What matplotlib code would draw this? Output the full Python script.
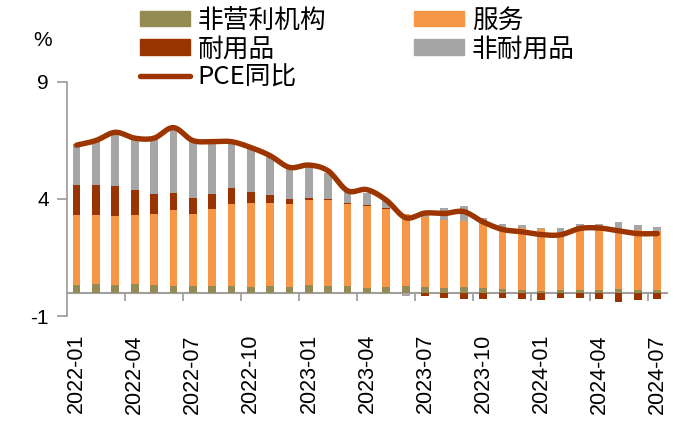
import numpy as np
import matplotlib
matplotlib.use("Agg")
import matplotlib.pyplot as plt
from matplotlib.patches import Patch
from matplotlib.lines import Line2D

months = ["2022-01","2022-02","2022-03","2022-04","2022-05","2022-06","2022-07","2022-08",
          "2022-09","2022-10","2022-11","2022-12","2023-01","2023-02","2023-03","2023-04",
          "2023-05","2023-06","2023-07","2023-08","2023-09","2023-10","2023-11","2023-12",
          "2024-01","2024-02","2024-03","2024-04","2024-05","2024-06","2024-07"]

nonprofit = [0.31,0.37,0.31,0.35,0.31,0.27,0.30,0.28,0.28,0.26,0.28,0.24,0.31,0.28,0.27,0.21,
             0.24,0.28,0.24,0.21,0.24,0.18,0.14,0.10,0.07,0.11,0.13,0.13,0.14,0.10,0.13]
services = [2.99,2.93,2.96,2.95,3.05,3.25,3.08,3.31,3.52,3.59,3.54,3.56,3.66,3.67,3.53,3.49,
            3.33,3.07,3.00,2.91,2.82,2.75,2.60,2.65,2.63,2.50,2.60,2.60,2.58,2.58,2.50]
durables = [1.28,1.31,1.30,1.07,0.84,0.75,0.66,0.61,0.67,0.46,0.33,0.20,0.07,0.05,0.05,0.06,
            0.05,0.00,-0.13,-0.23,-0.28,-0.26,-0.25,-0.28,-0.30,-0.24,-0.21,-0.28,-0.40,-0.32,-0.28]
nondurables = [1.75,1.86,2.19,2.18,2.38,2.71,2.47,2.19,1.96,1.89,1.65,1.27,1.33,1.13,0.46,0.51,
               0.28,-0.15,0.23,0.48,0.64,0.27,0.20,0.15,0.08,0.13,0.21,0.21,0.28,0.20,0.19]
pce = [6.30,6.50,6.85,6.60,6.60,7.05,6.50,6.45,6.45,6.20,5.85,5.35,5.45,5.20,4.35,4.40,
       3.95,3.20,3.40,3.38,3.46,3.02,2.70,2.60,2.48,2.47,2.74,2.76,2.64,2.52,2.52]

series = [("非营利机构", nonprofit, "#948A54"),
          ("服务", services, "#F79646"),
          ("耐用品", durables, "#993300"),
          ("非耐用品", nondurables, "#A6A6A6")]
line_color = "#9C3500"
tick_font = "Liberation Sans"
cjk = ["Noto Sans CJK SC", "DejaVu Sans"]

fig = plt.figure(figsize=(6.83, 4.29), dpi=100)
ax = fig.add_axes([0.098, 0.2634, 0.8785, 0.5455])

x = np.arange(len(months))
pos_bottom = np.zeros(len(x))
neg_bottom = np.zeros(len(x))
for name, vals, col in series:
    v = np.array(vals, dtype=float)
    bottom = np.where(v >= 0, pos_bottom, neg_bottom)
    ax.bar(x, v, bottom=bottom, width=0.4, color=col, linewidth=0, zorder=2)
    pos_bottom = pos_bottom + np.where(v >= 0, v, 0)
    neg_bottom = neg_bottom + np.where(v < 0, v, 0)

# smooth (Catmull-Rom) rendering of the PCE line, like a spreadsheet "smoothed line"
def smooth(xs, ys, n=12):
    xs = np.asarray(xs, float); ys = np.asarray(ys, float)
    px = np.concatenate([[2*xs[0]-xs[1]], xs, [2*xs[-1]-xs[-2]]])
    py = np.concatenate([[2*ys[0]-ys[1]], ys, [2*ys[-1]-ys[-2]]])
    ox, oy = [], []
    for i in range(1, len(px)-2):
        t = np.linspace(0, 1, n, endpoint=False)
        for arr, out in ((px, ox), (py, oy)):
            p0, p1, p2, p3 = arr[i-1], arr[i], arr[i+1], arr[i+2]
            out.extend(0.5*((2*p1) + (-p0+p2)*t + (2*p0-5*p1+4*p2-p3)*t**2 + (-p0+3*p1-3*p2+p3)*t**3))
    ox.append(xs[-1]); oy.append(ys[-1])
    return np.array(ox), np.array(oy)

sx, sy = smooth(x, pce)
ax.plot(sx, sy, color=line_color, lw=3.9, solid_capstyle="round", solid_joinstyle="round", zorder=3)

ax.set_xlim(-0.5, len(x)-0.5)
ax.set_ylim(-1, 9)
ax.set_yticks([-1, 4, 9])
ax.set_yticklabels(["-1", "4", "9"], fontsize=15, family=tick_font)

for s in ["top", "right"]:
    ax.spines[s].set_visible(False)
ax.spines["left"].set_color("#A0A0A0")
ax.spines["left"].set_linewidth(1.3)
ax.spines["bottom"].set_position(("data", 0))
ax.spines["bottom"].set_color("#A0A0A0")
ax.spines["bottom"].set_linewidth(1.5)
ax.spines["bottom"].set_zorder(1)
ax.tick_params(axis="y", direction="out", length=7, width=1.3, color="#A0A0A0", pad=6)

# tick marks on the zero line at group boundaries (every 3 months)
ax.set_xticks(np.arange(2.5, len(x)-0.5, 3))
ax.set_xticklabels([])
ax.tick_params(axis="x", direction="out", length=6, width=1.3, color="#A0A0A0")

# date labels at the bottom of the plot
sec = ax.secondary_xaxis("bottom")
sec.set_xticks(x[::3])
sec.set_xticklabels(months[::3], rotation=90, fontsize=15.5, family=tick_font)
sec.tick_params(length=0, pad=13)
sec.spines["bottom"].set_visible(False)

fig.text(0.062, 0.905, "%", fontsize=15, family=tick_font, ha="center", va="center")

handles = [Patch(color="#948A54"), Patch(color="#993300"),
           Line2D([0], [0], color=line_color, lw=3.9, solid_capstyle="round"),
           Patch(color="#F79646"), Patch(color="#A6A6A6")]
labels = ["非营利机构", "耐用品", "PCE同比", "服务", "非耐用品"]
fig.legend(handles, labels, ncol=2, loc="upper left", bbox_to_anchor=(0.19, 1.006),
           frameon=False, prop={"family": cjk, "size": 18.5},
           handlelength=1.95, handleheight=0.55, handletextpad=0.3,
           labelspacing=0.1, columnspacing=3.4, borderaxespad=0)

fig.savefig("out.png", dpi=100)
